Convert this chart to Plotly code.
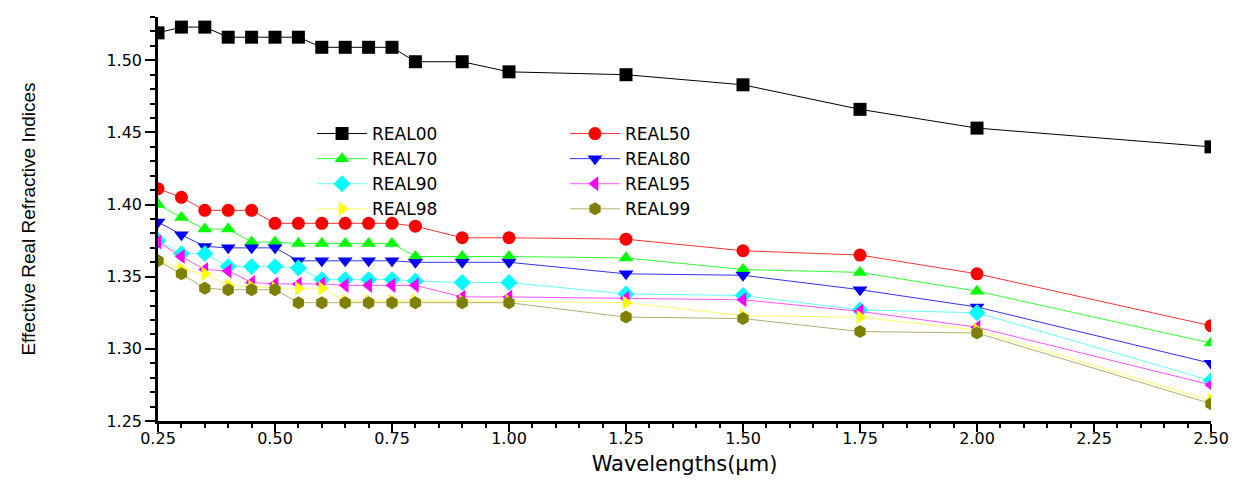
import plotly.graph_objects as go

wavelengths = [0.25, 0.30, 0.35, 0.40, 0.45, 0.50, 0.55, 0.60, 0.65, 0.70, 0.75,
               0.80, 0.90, 1.00, 1.25, 1.50, 1.75, 2.00, 2.50]

real00 = [1.519, 1.523, 1.523, 1.516, 1.516, 1.516, 1.516, 1.509, 1.509, 1.509, 1.509,
          1.499, 1.499, 1.492, 1.490, 1.483, 1.466, 1.453, 1.440]
real50 = [1.411, 1.405, 1.396, 1.396, 1.396, 1.387, 1.387, 1.387, 1.387, 1.387, 1.387,
          1.385, 1.377, 1.377, 1.376, 1.368, 1.365, 1.352, 1.316]
real70 = [1.400, 1.391, 1.383, 1.383, 1.374, 1.374, 1.373, 1.373, 1.373, 1.373, 1.373,
          1.364, 1.364, 1.364, 1.363, 1.355, 1.353, 1.340, 1.304]
real80 = [1.388, 1.379, 1.371, 1.370, 1.370, 1.370, 1.361, 1.361, 1.361, 1.361, 1.361,
          1.360, 1.360, 1.360, 1.352, 1.351, 1.341, 1.329, 1.290]
real90 = [1.375, 1.366, 1.366, 1.357, 1.357, 1.357, 1.356, 1.348, 1.348, 1.348, 1.348,
          1.347, 1.346, 1.346, 1.338, 1.337, 1.327, 1.325, 1.278]
real95 = [1.374, 1.364, 1.355, 1.354, 1.346, 1.345, 1.345, 1.345, 1.344, 1.344, 1.344,
          1.344, 1.336, 1.336, 1.335, 1.334, 1.326, 1.315, 1.275]
real98 = [1.362, 1.355, 1.352, 1.344, 1.343, 1.342, 1.342, 1.342, 1.333, 1.333, 1.333,
          1.333, 1.333, 1.333, 1.332, 1.323, 1.322, 1.313, 1.264]
real99 = [1.361, 1.352, 1.342, 1.341, 1.341, 1.341, 1.332, 1.332, 1.332, 1.332, 1.332,
          1.332, 1.332, 1.332, 1.322, 1.321, 1.312, 1.311, 1.262]

series_names = ["REAL00", "REAL50", "REAL70", "REAL80", "REAL90", "REAL95", "REAL98", "REAL99"]
series_values = [real00, real50, real70, real80, real90, real95, real98, real99]
line_colors = ["#000000", "#ff3333", "#33ff33", "#3333ff", "#66ffff", "#ff55ff", "#ffff66", "#b0b070"]
marker_colors = ["#000000", "#ff0000", "#00ff00", "#0000ff", "#00ffff", "#ff00ff", "#ffff00", "#808000"]
symbols = ["square", "circle", "triangle-up", "triangle-down", "diamond",
           "triangle-left", "triangle-right", "hexagon"]
legend_ids = ["legend", "legend2", "legend", "legend2", "legend", "legend2", "legend", "legend2"]

fig = go.Figure()
for name, vals, lc, mc, sym, lg in zip(series_names, series_values, line_colors,
                                      marker_colors, symbols, legend_ids):
    fig.add_trace(go.Scatter(
        x=wavelengths, y=vals, name=name, mode="lines+markers",
        line=dict(color=lc, width=1),
        marker=dict(symbol=sym, color=mc, size=13, line=dict(width=0)),
        legend=lg,
    ))

legend_common = dict(
    font=dict(family="DejaVu Sans", size=17, color="black"),
    bgcolor="rgba(0,0,0,0)", borderwidth=0, itemwidth=50,
    yanchor="top", xanchor="left", tracegroupgap=0,
)

fig.update_layout(
    width=1246, height=480,
    margin=dict(l=158, r=35, t=17, b=59, autoexpand=False),
    paper_bgcolor="white", plot_bgcolor="white",
    font=dict(family="Liberation Sans", color="black"),
    showlegend=True,
    legend=dict(x=0.1463, y=0.755, **legend_common),
    legend2=dict(x=0.3865, y=0.755, **legend_common),
    xaxis=dict(
        range=[0.25, 2.5], tick0=0.25, dtick=0.25, tickformat=".2f",
        showgrid=False, zeroline=False, automargin=False,
        showline=True, linecolor="black", linewidth=2.5,
        ticks="outside", ticklen=8, tickwidth=2, tickcolor="black",
        minor=dict(dtick=0.05, ticks="outside", ticklen=4, tickwidth=1.5, tickcolor="black"),
        tickfont=dict(family="DejaVu Sans", size=16),
        ticklabelstandoff=-7,
        title=dict(text="Wavelengths(μm)", font=dict(family="DejaVu Sans", size=21), standoff=10),
    ),
    yaxis=dict(
        range=[1.25, 1.53], tick0=1.25, dtick=0.05, tickformat=".2f",
        showgrid=False, zeroline=False, automargin=False,
        showline=True, linecolor="black", linewidth=2.5,
        ticks="outside", ticklen=10, tickwidth=2, tickcolor="black",
        minor=dict(dtick=0.01, ticks="outside", ticklen=5, tickwidth=1.5, tickcolor="black"),
        tickfont=dict(family="DejaVu Sans", size=16),
        title=dict(text="Effective Real Refractive Indices",
                   font=dict(family="Liberation Sans", size=19), standoff=66),
    ),
)

fig.write_html("out.html")
